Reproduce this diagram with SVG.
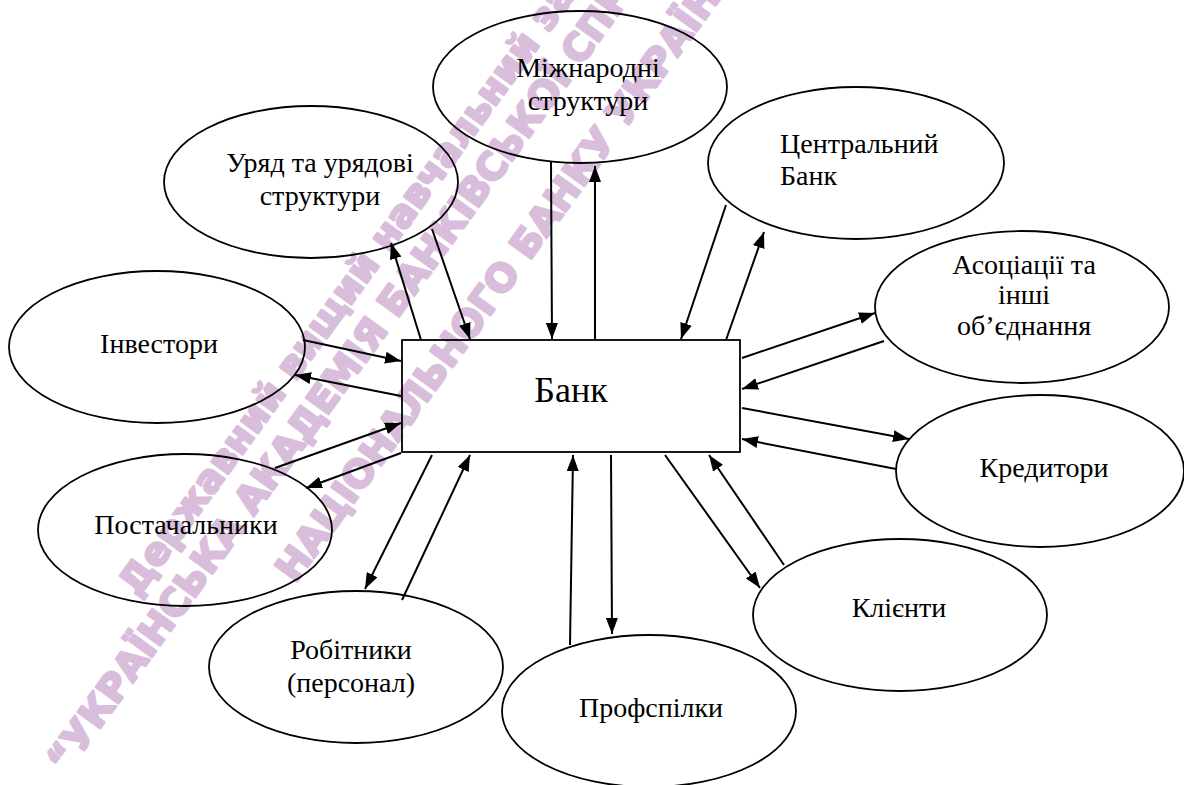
<svg xmlns="http://www.w3.org/2000/svg" width="1184" height="785" viewBox="0 0 1184 785">
<style>
.wm{font-family:"DejaVu Sans","Liberation Sans",sans-serif;font-weight:bold;font-size:38px;fill:#d9bedc;stroke:#d9bedc;stroke-width:2.6;stroke-linejoin:round}
.node ellipse,.node rect{fill:none;stroke:#000;stroke-width:1.8}
.lbl{font-family:"Liberation Serif","Times New Roman","DejaVu Serif","Noto Serif",serif;font-size:28px;fill:#000;text-anchor:middle}
.conn line{stroke:#000;stroke-width:2;marker-end:url(#ah)}
</style>
<defs>
<marker id="ah" markerUnits="userSpaceOnUse" markerWidth="16" markerHeight="12" viewBox="0 0 16 12" refX="16" refY="6" orient="auto">
<path d="M0,0 L16,6 L0,12 z" fill="#000"/>
</marker>
</defs>
<rect width="1184" height="785" fill="#fff"/>
<g id="watermark">
<text class="wm" transform="translate(138,598) rotate(-54)">Державний вищий навчальний заклад</text>
<text class="wm" transform="translate(66,775) rotate(-54)">“УКРАЇНСЬКА АКАДЕМІЯ БАНКІВСЬКОЇ СПРАВИ</text>
<text class="wm" transform="translate(295,584) rotate(-54)">НАЦІОНАЛЬНОГО БАНКУ УКРАЇНИ”</text>
</g>
<g id="bank" class="node">
<rect x="402" y="340" width="338" height="112"/>
<text class="lbl" x="571" y="402" style="font-size:36px">Банк</text>
</g>
<g id="mizhnarodni" class="node">
<ellipse cx="580" cy="87" rx="147" ry="76"/>
<text class="lbl" x="588" y="77">Міжнародні</text>
<text class="lbl" x="588" y="110">структури</text>
</g>
<g id="uriad" class="node">
<ellipse cx="311" cy="182" rx="147" ry="76"/>
<text class="lbl" x="320" y="172">Уряд та урядові</text>
<text class="lbl" x="320" y="205">структури</text>
</g>
<g id="tsentralnyi" class="node">
<ellipse cx="856" cy="163" rx="148" ry="76"/>
<text class="lbl" x="780" y="153" style="text-anchor:start">Центральний</text>
<text class="lbl" x="780" y="185" style="text-anchor:start">Банк</text>
</g>
<g id="asotsiatsii" class="node">
<ellipse cx="1022" cy="307" rx="147" ry="76"/>
<text class="lbl" x="1024" y="274">Асоціації та</text>
<text class="lbl" x="1024" y="304">інші</text>
<text class="lbl" x="1024" y="335">об’єднання</text>
</g>
<g id="kredytory" class="node">
<ellipse cx="1040" cy="471" rx="144" ry="76"/>
<text class="lbl" x="1044" y="477">Кредитори</text>
</g>
<g id="kliienty" class="node">
<ellipse cx="900" cy="615" rx="147" ry="76"/>
<text class="lbl" x="899" y="617">Клієнти</text>
</g>
<g id="profspilky" class="node">
<ellipse cx="649" cy="711" rx="147" ry="76"/>
<text class="lbl" x="651" y="717">Профспілки</text>
</g>
<g id="robitnyky" class="node">
<ellipse cx="356" cy="667" rx="147" ry="76"/>
<text class="lbl" x="351" y="659">Робітники</text>
<text class="lbl" x="351" y="692">(персонал)</text>
</g>
<g id="postachalnyky" class="node">
<ellipse cx="185" cy="530" rx="147" ry="76"/>
<text class="lbl" x="186" y="534">Постачальники</text>
</g>
<g id="investory" class="node">
<ellipse cx="157" cy="347" rx="148" ry="76"/>
<text class="lbl" x="159" y="353">Інвестори</text>
</g>
<g id="connectors" class="conn">
<line x1="421" y1="340" x2="391" y2="243"/>
<line x1="432" y1="229" x2="470" y2="339"/>
<line x1="551" y1="162" x2="552" y2="339"/>
<line x1="595" y1="340" x2="595" y2="166"/>
<line x1="726" y1="205" x2="681" y2="339"/>
<line x1="726" y1="340" x2="764" y2="232"/>
<line x1="742" y1="358" x2="875" y2="313"/>
<line x1="884" y1="341" x2="742" y2="389"/>
<line x1="742" y1="408" x2="909" y2="439"/>
<line x1="896" y1="469" x2="742" y2="439"/>
<line x1="665" y1="455" x2="760" y2="588"/>
<line x1="784" y1="565" x2="709" y2="455"/>
<line x1="611" y1="455" x2="612" y2="634"/>
<line x1="570" y1="645" x2="573" y2="455"/>
<line x1="432" y1="455" x2="365" y2="589"/>
<line x1="402" y1="600" x2="470" y2="455"/>
<line x1="275" y1="468" x2="401" y2="423"/>
<line x1="401" y1="453" x2="306" y2="488"/>
<line x1="303" y1="340" x2="401" y2="361"/>
<line x1="401" y1="396" x2="295" y2="375"/>
</g>
</svg>
